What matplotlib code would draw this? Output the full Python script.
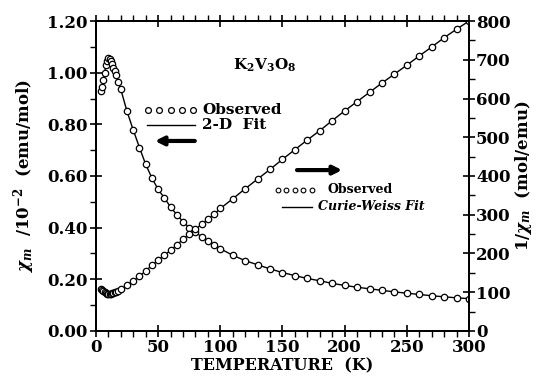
import matplotlib
matplotlib.use('Agg')
import matplotlib.pyplot as plt
from matplotlib.ticker import MultipleLocator

# ── data ────────────────────────────────────────────────────────────────────
temp = [4, 5, 6, 7, 8, 9, 10, 11, 12, 13, 14, 15, 16, 18, 20,
        25, 30, 35, 40, 45, 50, 55, 60, 65, 70, 75, 80, 85, 90, 95, 100,
        110, 120, 130, 140, 150, 160, 170, 180, 190, 200,
        210, 220, 230, 240, 250, 260, 270, 280, 290, 300]

# chi_m in 1e-2 emu/mol (left axis)
chi = [0.930, 0.945, 0.970, 1.000, 1.030, 1.045, 1.055, 1.052, 1.045, 1.035,
       1.020, 1.005, 0.990, 0.965, 0.935,
       0.850, 0.778, 0.710, 0.645, 0.592, 0.548, 0.515, 0.480, 0.450, 0.423,
       0.400, 0.382, 0.364, 0.347, 0.333, 0.318,
       0.293, 0.272, 0.256, 0.240, 0.226, 0.214, 0.203, 0.194, 0.184, 0.176,
       0.169, 0.163, 0.157, 0.151, 0.146, 0.141, 0.136, 0.132, 0.128, 0.125]

# 1/chi_m in mol/emu (right axis)
inv_chi = [108, 106, 103, 100, 97, 95.5, 94.8, 95, 95.7, 96.6,
           98, 99.5, 101, 103.6, 107,
           118, 129, 141, 155, 169, 183, 195, 208, 222, 236,
           250, 262, 275, 288, 301, 316,
           341, 367, 392, 417, 443, 468, 493, 517, 543, 568,
           592, 616, 640, 663, 686, 710, 733, 757, 779, 800]

plt.rcParams.update({
    "font.family": "DejaVu Serif",
    "font.weight": "bold",
    "mathtext.fontset": "dejavuserif",
    "axes.linewidth": 1.3,
})

fig = plt.figure(figsize=(5.36, 3.76), dpi=100)
fig.patch.set_facecolor("white")
ax = fig.add_axes([0.179, 0.12, 0.696, 0.824])
ax2 = ax.twinx()

mk = dict(marker="o", markersize=4.6, markerfacecolor="white",
          markeredgecolor="black", markeredgewidth=0.9,
          color="black", linewidth=1.0)
ax.plot(temp, chi, **mk)
ax2.plot(temp, inv_chi, **mk)

ax.set_xlim(0, 300)
ax.set_ylim(0, 1.2)
ax2.set_ylim(0, 800)

ax.xaxis.set_major_locator(MultipleLocator(50))
ax.xaxis.set_minor_locator(MultipleLocator(10))
ax.yaxis.set_major_locator(MultipleLocator(0.2))
ax.yaxis.set_minor_locator(MultipleLocator(0.1))
ax2.yaxis.set_major_locator(MultipleLocator(100))
ax2.yaxis.set_minor_locator(MultipleLocator(50))
ax.yaxis.set_major_formatter(lambda v, p: f"{v:.2f}")

ax.tick_params(axis="both", which="major", direction="inout", length=8,
               width=1.2, labelsize=12, pad=2)
ax.tick_params(axis="both", which="minor", direction="out", length=4, width=1.0)
ax.tick_params(axis="x", top=True, which="both")
ax.tick_params(axis="x", which="major", pad=2)
ax2.tick_params(axis="y", which="major", direction="inout", length=8,
                width=1.2, labelsize=12, pad=1)
ax2.tick_params(axis="y", which="minor", direction="out", length=4, width=1.0)

ax.set_xlabel("TEMPERATURE  (K)", fontsize=11.5, fontweight="bold", labelpad=0.5)
ax.set_ylabel(r"$\chi_m$  /10$^{-2}$  (emu/mol)", fontsize=12,
              fontweight="bold", labelpad=7)
ax2.set_ylabel(r"1/$\chi_m$  (mol/emu)", fontsize=12, fontweight="bold",
               labelpad=2)

# ── annotations (axes-fraction coordinates) ─────────────────────────────────
tr = ax.transAxes
ax.text(0.453, 0.858, r"K$_2$V$_3$O$_8$", transform=tr, fontsize=11,
        ha="center", va="center")

# left legend
ax.plot([0.140 + i * 0.030 for i in range(5)], [0.713] * 5, transform=tr,
        linestyle="none", marker="o", markersize=4.2, markerfacecolor="white",
        markeredgecolor="black", markeredgewidth=0.9)
ax.plot([0.137, 0.265], [0.665, 0.665], transform=tr, color="black", lw=1.0)
ax.text(0.285, 0.713, "Observed", transform=tr, fontsize=11, va="center")
ax.text(0.285, 0.665, "2-D  Fit", transform=tr, fontsize=11, va="center")
ax.annotate("", xy=(0.158, 0.613), xytext=(0.265, 0.613),
            xycoords=tr, textcoords=tr,
            arrowprops=dict(arrowstyle="-|>,head_length=0.5,head_width=0.25",
                            lw=3, color="black", shrinkA=0, shrinkB=0))

# right legend
ax.plot([0.487 + i * 0.023 for i in range(5)], [0.455] * 5, transform=tr,
        linestyle="none", marker="o", markersize=3.4, markerfacecolor="white",
        markeredgecolor="black", markeredgewidth=0.8)
ax.plot([0.499, 0.579], [0.40, 0.40], transform=tr, color="black", lw=1.0)
ax.text(0.622, 0.455, "Observed", transform=tr, fontsize=9, va="center")
ax.text(0.595, 0.40, "Curie-Weiss Fit", transform=tr, fontsize=9,
        style="italic", va="center")
ax.annotate("", xy=(0.66, 0.519), xytext=(0.539, 0.519),
            xycoords=tr, textcoords=tr,
            arrowprops=dict(arrowstyle="-|>,head_length=0.5,head_width=0.25",
                            lw=3, color="black", shrinkA=0, shrinkB=0))

fig.savefig("out.png", dpi=100, facecolor="white")
